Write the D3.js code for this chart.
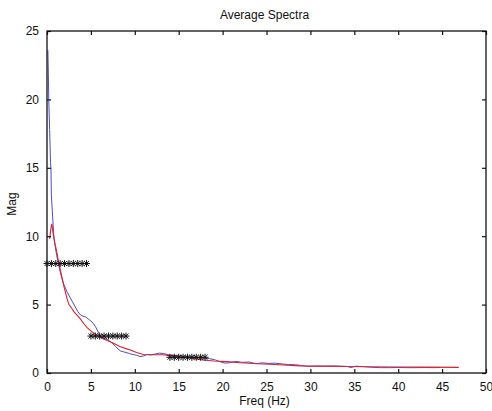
<!DOCTYPE html>
<html>
<head>
<meta charset="utf-8">
<script src="https://cdn.jsdelivr.net/npm/d3@7"></script>
<style>
  body { margin: 0; background: #fff; }
  text { font-family: "Liberation Sans", Arial, sans-serif; fill: #111; }
</style>
</head>
<body>
<svg id="chart" width="492" height="411"></svg>
<script>
(function () {
  'use strict'

  // blue spectrum [freq, mag]
  var blueSeries = [
    [0.1, 23.6], [0.15, 22.0], [0.2, 20.0], [0.3, 17.8], [0.4, 15.4], [0.45, 15.0],
    [0.5, 13.0], [0.6, 11.9], [0.7, 10.8], [0.8, 9.8], [0.9, 9.4], [1.1, 8.6],
    [1.3, 8.0], [1.5, 7.4], [1.7, 6.9], [1.9, 6.5], [2.1, 6.2], [2.3, 5.9],
    [2.6, 5.55], [2.9, 5.2], [3.2, 4.85], [3.5, 4.5], [3.8, 4.25], [4.1, 4.15],
    [4.4, 4.1], [4.7, 3.95], [5.0, 3.8], [5.3, 3.6], [5.6, 3.3], [5.9, 2.9],
    [6.1, 2.65], [6.5, 2.55], [7.0, 2.4], [7.4, 2.2], [7.8, 1.95], [8.1, 1.75],
    [8.4, 1.6], [8.7, 1.55], [9.0, 1.5], [9.4, 1.42], [9.8, 1.35], [10.2, 1.3],
    [10.6, 1.2], [11.0, 1.25], [11.4, 1.35], [11.8, 1.32], [12.3, 1.38], [12.8, 1.45],
    [13.3, 1.42], [13.8, 1.33], [14.3, 1.3], [15.0, 1.25], [15.7, 1.2], [16.4, 1.18],
    [17.1, 1.12], [17.8, 1.1], [18.5, 1.05], [19.2, 0.95], [19.8, 0.8], [20.3, 0.72],
    [20.8, 0.75], [21.5, 0.85], [22.2, 0.78], [23.0, 0.8], [23.8, 0.68], [24.5, 0.74],
    [25.3, 0.7], [26.0, 0.72], [26.8, 0.66], [27.5, 0.62], [28.3, 0.6], [29.0, 0.55],
    [29.8, 0.48], [30.6, 0.5], [31.5, 0.5], [32.5, 0.52], [33.5, 0.5], [34.2, 0.48],
    [34.6, 0.4], [35.2, 0.5], [36.0, 0.47], [37.0, 0.42], [38.0, 0.39], [39.0, 0.39],
    [40.0, 0.4], [41.0, 0.39], [42.0, 0.39], [43.0, 0.4], [44.0, 0.39], [44.8, 0.4]
  ]

  // red spectrum [freq, mag]
  var redSeries = [
    [0.3, 9.8], [0.45, 10.6], [0.55, 10.9], [0.7, 10.2], [0.9, 9.5], [1.1, 8.9],
    [1.3, 8.2], [1.5, 7.6], [1.7, 7.0], [1.9, 6.4], [2.1, 5.9], [2.3, 5.4],
    [2.5, 5.0], [2.8, 4.75], [3.1, 4.45], [3.4, 4.25], [3.8, 3.95], [4.2, 3.6],
    [4.6, 3.3], [5.1, 3.02], [5.6, 2.8], [6.0, 2.65], [6.6, 2.45], [7.2, 2.28],
    [7.8, 2.1], [8.3, 1.93], [8.9, 1.8], [9.5, 1.68], [10.2, 1.5], [11.0, 1.35],
    [12.0, 1.33], [13.2, 1.33], [14.2, 1.25], [15.1, 1.19], [16.5, 1.08], [17.8, 0.95],
    [19.0, 0.88], [20.5, 0.83], [22.0, 0.75], [24.0, 0.68], [26.0, 0.62], [28.8, 0.52],
    [31.0, 0.5], [34.0, 0.47], [36.4, 0.46], [40.0, 0.44], [43.0, 0.43], [46.9, 0.41]
  ]

  // band markers: freq positions and level
  var bandLow = { freqs: [0, 0.5, 1, 1.5, 2, 2.5, 3, 3.5, 4, 4.5], level: 8 }
  var bandMid = { freqs: [5, 5.5, 6, 6.5, 7, 7.5, 8, 8.5, 9], level: 2.7 }
  var bandHigh = { freqs: [14, 14.5, 15, 15.5, 16, 16.5, 17, 17.5, 18], level: 1.15 }

  var xTicks = [0, 5, 10, 15, 20, 25, 30, 35, 40, 45, 50]
  var yTicks = [0, 5, 10, 15, 20, 25]

  var margin = { top: 31, right: 6, bottom: 38, left: 47 }
  var svg = d3.select('#chart')
  var width = 492 - margin.left - margin.right
  var height = 411 - margin.top - margin.bottom

  var x = d3.scaleLinear().domain([0, 50]).range([0, width])
  var y = d3.scaleLinear().domain([0, 25]).range([height, 0])

  var g = svg.append('g').attr('transform', 'translate(' + margin.left + ',' + margin.top + ')')

  var line = d3.line()
    .x(function (d) { return x(d[0]) })
    .y(function (d) { return y(d[1]) })

  g.append('path')
    .datum(blueSeries)
    .attr('fill', 'none')
    .attr('stroke', '#4b4bcf')
    .attr('stroke-width', 1)
    .attr('d', line)

  g.append('path')
    .datum(redSeries)
    .attr('fill', 'none')
    .attr('stroke', '#e0222c')
    .attr('stroke-width', 1.1)
    .attr('d', line)

  // asterisk markers like matlab '*'
  var r = 3.5
  var star = 'M' + -r + ',0L' + r + ',0M0,' + -r + 'L0,' + r +
    'M' + -r * 0.7 + ',' + -r * 0.7 + 'L' + r * 0.7 + ',' + r * 0.7 +
    'M' + -r * 0.7 + ',' + r * 0.7 + 'L' + r * 0.7 + ',' + -r * 0.7;

  [bandLow, bandMid, bandHigh].forEach(function (band) {
    g.selectAll(null)
      .data(band.freqs)
      .enter().append('path')
      .attr('transform', function (d) { return 'translate(' + x(d) + ',' + y(band.level) + ')' })
      .attr('d', star)
      .attr('stroke', '#111')
      .attr('stroke-width', 1)
      .attr('fill', 'none')
  })

  // axes, ticks inward on all four sides
  function styleAxis (sel) {
    sel.select('.domain').remove()
    sel.selectAll('.tick line').attr('stroke', '#111').attr('stroke-width', 1.2)
    sel.selectAll('.tick text').style('font-size', '12px')
  }

  g.append('g')
    .attr('transform', 'translate(0,' + height + ')')
    .call(d3.axisBottom(x).tickValues(xTicks).tickSizeInner(-4).tickPadding(9).tickSizeOuter(0))
    .call(styleAxis)

  g.append('g')
    .call(d3.axisLeft(y).tickValues(yTicks).tickSizeInner(-4).tickPadding(8).tickSizeOuter(0))
    .call(styleAxis)

  g.append('g')
    .call(d3.axisTop(x).tickValues(xTicks).tickSizeInner(-4).tickFormat('').tickSizeOuter(0))
    .call(styleAxis)

  g.append('g')
    .attr('transform', 'translate(' + width + ',0)')
    .call(d3.axisRight(y).tickValues(yTicks).tickSizeInner(-4).tickFormat('').tickSizeOuter(0))
    .call(styleAxis)

  g.append('rect')
    .attr('width', width)
    .attr('height', height)
    .attr('fill', 'none')
    .attr('stroke', '#111')
    .attr('stroke-width', 1.3)

  svg.append('text')
    .attr('x', margin.left + width / 2 - 2)
    .attr('y', 19)
    .attr('text-anchor', 'middle')
    .style('font-size', '12px')
    .text('Average Spectra')

  svg.append('text')
    .attr('x', margin.left + width / 2 - 2)
    .attr('y', 405)
    .attr('text-anchor', 'middle')
    .style('font-size', '12px')
    .text('Freq (Hz)')

  svg.append('text')
    .attr('transform', 'translate(16,' + (margin.top + height / 2 + 2) + ') rotate(-90)')
    .attr('text-anchor', 'middle')
    .style('font-size', '12px')
    .text('Mag')
})()
</script>
</body>
</html>
